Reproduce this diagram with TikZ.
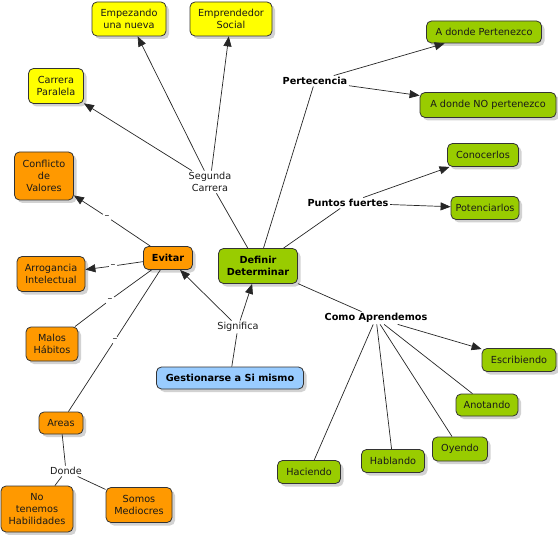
\documentclass[tikz,border=0pt]{standalone}
\usepackage{fontspec}
\setmainfont{DejaVu Sans}
\usepackage{tikz}
\usetikzlibrary{arrows.meta,shadows}
\definecolor{cmyellow}{HTML}{FFFF00}
\definecolor{cmorange}{HTML}{FF9900}
\definecolor{cmgreen}{HTML}{99CC00}
\definecolor{cmblue}{HTML}{99CCFF}

\begin{document}
\begin{tikzpicture}[
  x=1pt, y=-1pt,
  >={Triangle[length=10pt,width=8pt]},
  every node/.style={font=\fontsize{9.7}{11.8}\selectfont, text=black!90, align=center},
  concept/.style={draw=black!80, line width=0.8pt, rounded corners=5pt, inner sep=0pt,
    drop shadow={shadow xshift=3pt, shadow yshift=-3pt, fill=black!25, opacity=0.7}},
  bx/.style 2 args={minimum width=#1pt, minimum height=#2pt},
  yelbox/.style={concept, fill=cmyellow},
  orgbox/.style={concept, fill=cmorange},
  grnbox/.style={concept, fill=cmgreen},
  blubox/.style={concept, fill=cmblue},
  heavy/.style={font=\fontsize{9.7}{11.8}\selectfont\bfseries, text=black},
  linkword/.style={inner sep=1.5pt},
  conn/.style={line width=0.7pt, black!85},
]
\useasboundingbox (0,0) rectangle (558,535);

%%% Segunda carrera branch %%%
\node[yelbox, bx={74}{34}] (empezando) at (129,19) {Empezando\\una nueva};
\node[yelbox, bx={82}{34}] (emprendedor) at (231,19) {Emprendedor\\Social};
\node[yelbox, bx={55}{35}] (paralela) at (56,86) {Carrera\\Paralela};
\node[linkword] (segunda) at (210,182) {Segunda\\Carrera};

%%% Evitar branch %%%
\node[orgbox, bx={59}{48}] (conflicto) at (44,176) {Conflicto\\de\\Valores};
\node[orgbox, bx={49}{23}, heavy] (evitar) at (168,258) {Evitar};
\node[orgbox, bx={68}{35}] (arrogancia) at (51,274) {Arrogancia\\Intelectual};
\node[orgbox, bx={52}{34}] (malos) at (52,344) {Malos\\Hábitos};
\node[orgbox, bx={44}{22}] (areas) at (61,423) {Areas};
\node[orgbox, bx={72}{46}] (notenemos) at (37,509) {No\\tenemos\\Habilidades};
\node[orgbox, bx={66}{35}] (mediocres) at (139,505) {Somos\\Mediocres};
\node[linkword] (dash1) at (107,217) {--};
\node[linkword] (dash2) at (113,266) {--};
\node[linkword] (dash3) at (110,300) {--};
\node[linkword] (dash4) at (115,340) {--};
\node[linkword] (donde) at (66,471) {Donde};

%%% Centre %%%
\node[grnbox, bx={79}{35}, heavy] (definir) at (258,266) {Definir\\Determinar};
\node[blubox, bx={147}{22}, heavy] (gestion) at (230,378) {Gestionarse a Si mismo};
\node[linkword] (significa) at (238,327) {Significa};

%%% Definir branches %%%
\node[linkword, heavy] (pertecencia) at (315,81) {Pertecencia};
\node[grnbox, bx={115}{22}] (pertenezco) at (484,32) {A donde Pertenezco};
\node[grnbox, bx={136}{25}] (nopertenezco) at (488,105) {A donde NO pertenezco};
\node[linkword, heavy] (puntos) at (348,203) {Puntos fuertes};
\node[grnbox, bx={71}{23}] (conocerlos) at (483,155) {Conocerlos};
\node[grnbox, bx={68}{23}] (potenciarlos) at (485,208) {Potenciarlos};
\node[linkword, heavy] (como) at (376,318) {Como Aprendemos};
\node[grnbox, bx={74}{23}] (escribiendo) at (519,360) {Escribiendo};
\node[grnbox, bx={62}{22}] (anotando) at (487,405) {Anotando};
\node[grnbox, bx={55}{24}] (oyendo) at (460,449) {Oyendo};
\node[grnbox, bx={63}{23}] (hablando) at (393,461) {Hablando};
\node[grnbox, bx={63}{23}] (haciendo) at (309,472) {Haciendo};

% Connections
\draw[conn] (gestion) -- (significa);
\draw[conn, ->] (significa) -- (evitar);
\draw[conn, ->] (significa) -- (definir);

\draw[conn] (definir) -- (segunda);
\draw[conn, ->] (segunda) -- (empezando);
\draw[conn, ->] (segunda) -- (emprendedor);
\draw[conn, ->] (segunda) -- (paralela);

\draw[conn] (evitar) -- (dash1);
\draw[conn, ->] (dash1) -- (conflicto);
\draw[conn] (evitar) -- (dash2);
\draw[conn, ->] (dash2) -- (arrogancia);
\draw[conn] (evitar) -- (dash3) -- (malos);
\draw[conn] (evitar) -- (dash4) -- (areas);
\draw[conn] (areas) -- (donde);
\draw[conn] (donde) -- (notenemos);
\draw[conn] (donde) -- (mediocres);

\draw[conn] (definir) -- (pertecencia);
\draw[conn, ->] (pertecencia) -- (pertenezco);
\draw[conn, ->] (pertecencia) -- (nopertenezco);
\draw[conn] (definir) -- (puntos);
\draw[conn, ->] (puntos) -- (conocerlos);
\draw[conn, ->] (puntos) -- (potenciarlos);
\draw[conn] (definir) -- (como);
\draw[conn, ->] (como) -- (escribiendo);
\draw[conn] (como) -- (anotando);
\draw[conn] (como) -- (oyendo);
\draw[conn] (como) -- (hablando);
\draw[conn] (como) -- (haciendo);

\end{tikzpicture}
\end{document}
